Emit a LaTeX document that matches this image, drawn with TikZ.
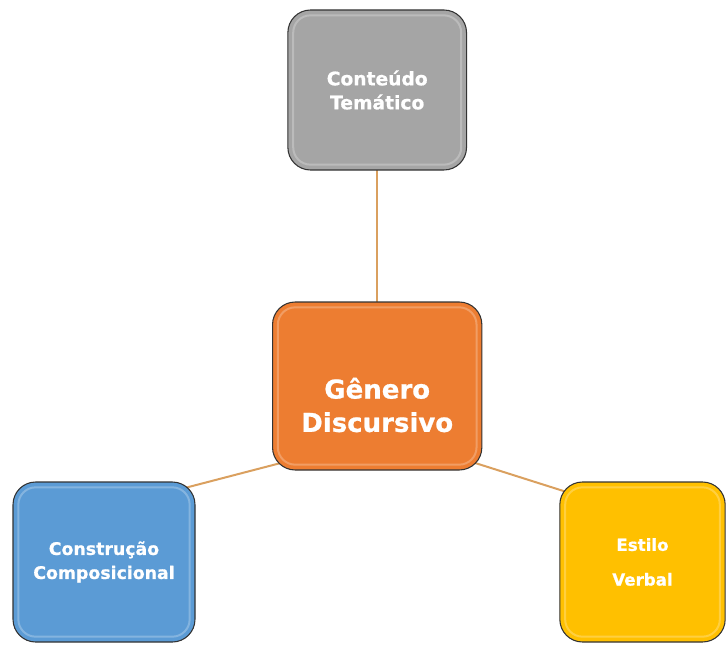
\documentclass[tikz,border=0pt]{standalone}
\usepackage{fontspec}
\newfontfamily\boxfont{DejaVu Sans}[BoldFeatures={FakeBold=0.8}]
\usetikzlibrary{positioning, calc, backgrounds}
\definecolor{temagray}{RGB}{165,165,165}
\definecolor{generoorange}{RGB}{237,125,49}
\definecolor{compblue}{RGB}{91,155,213}
\definecolor{estiloyellow}{RGB}{255,192,0}
\definecolor{linktan}{RGB}{218,160,95}

\begin{document}
\begin{tikzpicture}[x=0.75pt, y=0.75pt,
    box/.style={rectangle, rounded corners=17pt, draw=black!80, line width=0.8pt,
                minimum width=134pt, minimum height=120pt, align=center, text=white,
                font=\boxfont\bfseries\fontsize{13}{18}\selectfont,
                path picture={\draw[white, opacity=.25, line width=1.5pt, rounded corners=13pt]
                    ([shift={(4pt,4pt)}]path picture bounding box.south west) rectangle
                    ([shift={(-4pt,-4pt)}]path picture bounding box.north east);}},
    boxtext/.style={align=center, text=white, font=\boxfont\bfseries\fontsize{19.5}{25}\selectfont},
    link/.style={draw=linktan, line width=1.5pt, shorten <=-10pt, shorten >=-10pt}]

    \useasboundingbox (0,0) rectangle (727,644);

    \node[box, fill=temagray, font=\boxfont\bfseries\fontsize{14}{18}\selectfont] (tema) at (377.2,554) {Conteúdo\\Temático};
    \node[box, fill=generoorange, minimum width=157pt, minimum height=126pt] (genero) at (377.2,258) {};
    \node[boxtext] (generotext) at ($(genero.center)+(0,-19)$) {Gênero\\Discursivo};
    \node[box, fill=compblue, minimum width=136.5pt] (comp) at (104,82) {Construção\\Composicional};
    \node[box, fill=estiloyellow, minimum width=124pt,
          font=\boxfont\bfseries\fontsize{12.5}{26}\selectfont] (estilo) at (642.5,82) {Estilo\\Verbal};

    % links behind the boxes
    \begin{scope}[on background layer]
        \draw[link] (genero.north) -- (tema.south);
        \draw[link] (genero.217) -- (comp.40);
        \draw[link] (genero.323) -- (estilo.139);
    \end{scope}
\end{tikzpicture}
\end{document}
